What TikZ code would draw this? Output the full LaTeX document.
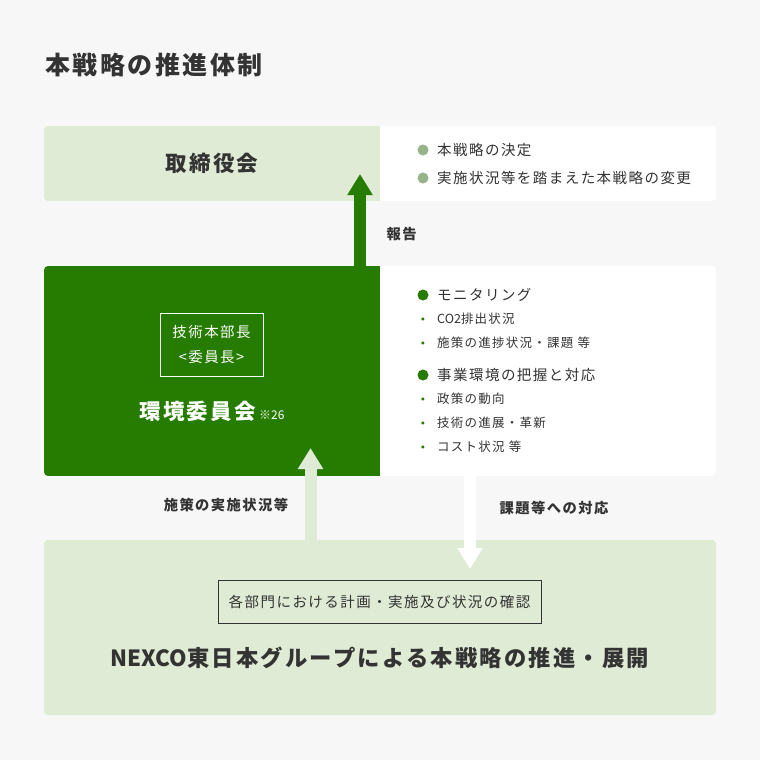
\documentclass[tikz,border=0pt]{standalone}
\usepackage{fontspec}
\setmainfont{Noto Sans CJK JP}[LetterSpace=10]
\newfontfamily\latin{Noto Sans CJK JP}
\usepackage{tikz}
\usetikzlibrary{arrows.meta,positioning}
\definecolor{pagebg}{HTML}{F7F7F7}
\definecolor{palegreen}{HTML}{DFEBD5}
\definecolor{deepgreen}{HTML}{267C00}
\definecolor{dotgreen}{HTML}{96B488}
\definecolor{inkgray}{HTML}{333333}
\newcommand{\fsz}[1]{\fontsize{#1}{#1}\selectfont}
\tikzset{ panel/.style={inner sep=0pt,outer sep=0pt,minimum width=#1},
  fat/.style={line width=12pt,-{Triangle[width=24pt,length=21pt]}},
  flowlbl/.style={text=inkgray,font=\bfseries\fsz{14.3},anchor=west},
  headitem/.style={text=inkgray,font=\fsz{14.5},anchor=west,inner sep=0pt},
  subitem/.style={text=inkgray,font=\fsz{12.5},anchor=west,inner sep=0pt},
  bigdot/.style={circle,inner sep=0pt,minimum size=11pt},
  smalldot/.style={circle,fill=deepgreen,inner sep=0pt,minimum size=3.4pt} }

\begin{document}
\begin{tikzpicture}[x=1pt,y=-1pt]
   \fill[pagebg] (0,0) rectangle (760,760);
   \useasboundingbox (0,0) rectangle (760,760);
   \node[text=inkgray,font=\bfseries\fsz{25},anchor=west,inner sep=0pt] (title) at (45,65) {本戦略の推進体制};
   % board
   \begin{scope}
     \clip[rounded corners=4pt] (44,126) rectangle (716,201);
     \node[panel=336pt,minimum height=75pt,fill=palegreen,text=inkgray,font=\bfseries\fsz{21.5}] (board) at (212,163.5) {取締役会};
     \node[panel=336pt,minimum height=75pt,fill=white,right=0pt of board] (boardnote) {};
   \end{scope}
   \node[headitem] (decide) at (437,150) {本戦略の決定};
   \node[headitem] (revise) at (437,178) {実施状況等を踏まえた本戦略の変更};
   \node[bigdot,fill=dotgreen] at (423,150) {};
   \node[bigdot,fill=dotgreen] at (423,178) {};
   % committee
   \begin{scope}
     \clip[rounded corners=4pt] (44,266) rectangle (716,476);
     \node[panel=336pt,minimum height=210pt,fill=deepgreen] (committee) at (212,371) {};
     \node[panel=336pt,minimum height=210pt,fill=white,right=0pt of committee] (committeenote) {};
   \end{scope}
   \node[draw=white,line width=1pt,minimum width=103pt,minimum height=63pt,text=white,font=\fontsize{14.5}{24.5}\selectfont,align=center] (chair) at (211.5,344.5) {技術本部長\\<委員長>};
   \node[text=white,font=\bfseries\fsz{21.5}] (cname) at (212,411) {環境委員会\,{\mdseries\latin\fsz{12}※26}};
   \node[headitem] (monitor) at (437,295) {モニタリング};
   \node[subitem] (co2) at (437,319) {{\latin CO2}排出状況};
   \node[subitem] (progress) at (437,343) {施策の進捗状況・課題 等};
   \node[headitem] (environ) at (437,375) {事業環境の把握と対応};
   \node[subitem] (policy) at (437,399) {政策の動向};
   \node[subitem] (tech) at (437,423) {技術の進展・革新};
   \node[subitem] (cost) at (437,447) {コスト状況 等};
   \node[bigdot,fill=deepgreen] at (423,295) {};
   \node[bigdot,fill=deepgreen] at (423,375) {};
   \node[smalldot,left=12.3pt of co2.west] {};
   \node[smalldot,left=12.3pt of progress.west] {};
   \node[smalldot,left=12.3pt of policy.west] {};
   \node[smalldot,left=12.3pt of tech.west] {};
   \node[smalldot,left=12.3pt of cost.west] {};
   % group
   \node[panel=672pt,minimum height=175pt,fill=palegreen,rounded corners=4pt] (group) at (380,627.5) {};
   \node[draw=inkgray,line width=1pt,minimum width=323pt,minimum height=43pt,text=inkgray,font=\fsz{14.5}] (check) at (379.5,601.5) {各部門における計画・実施及び状況の確認};
   \node[text=inkgray,font=\bfseries\fsz{22.3}] (promote) at (380,658) {{\latin NEXCO}東日本グループによる本戦略の推進・展開};
   % arrows
   \coordinate (reporttip) at (360,174);
   \coordinate (statustip) at (310.5,448);
   \coordinate (answertip) at (470,569);
   \draw[fat,deepgreen] (reporttip |- committee.north) -- (reporttip);
   \draw[fat,palegreen] (statustip |- group.north) -- (statustip);
   \draw[fat,white] (answertip |- committee.south) -- (answertip);
   \node[flowlbl] (report) at (383,234) {報告};
   \node[flowlbl,anchor=center] (status) at (226,505) {施策の実施状況等};
   \node[flowlbl,anchor=center] (answer) at (554,508) {課題等への対応};
\end{tikzpicture}
\end{document}
